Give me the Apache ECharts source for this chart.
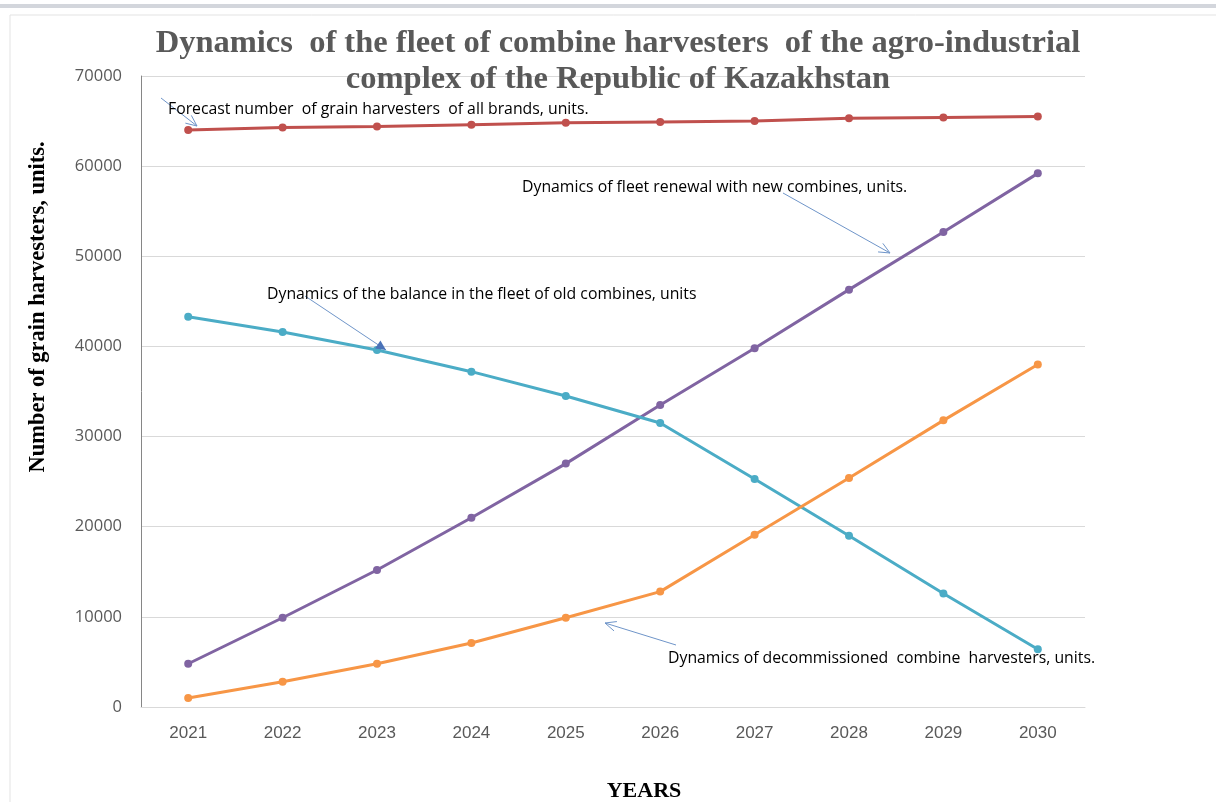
<!DOCTYPE html>
<html><head><meta charset="utf-8">
<script src="https://cdn.jsdelivr.net/npm/echarts@6/dist/echarts.min.js"></script>
<style>html,body{margin:0;padding:0;background:#fff;overflow:hidden}#c{width:1216px;height:802px}</style>
</head><body><div id="c"></div>
<script>
var years = ['2021','2022','2023','2024','2025','2026','2027','2028','2029','2030'];
var forecastTotal = [64000,64300,64400,64600,64800,64900,65000,65300,65400,65500];
var fleetRenewal = [4800,9900,15200,21000,27000,33500,39800,46300,52700,59200];
var oldBalance = [43300,41600,39600,37200,34500,31500,25300,19000,12600,6400];
var decommissioned = [1000,2800,4800,7100,9900,12800,19100,25400,31800,38000];
var seriesNames = ['Forecast number  of grain harvesters  of all brands, units.','Dynamics of fleet renewal with new combines, units.','Dynamics of the balance in the fleet of old combines, units','Dynamics of decommissioned  combine  harvesters, units.'];

var chart = echarts.init(document.getElementById('c'));
function mk(name, data, color){
  return {name:name,type:'line',data:data,symbol:'circle',symbolSize:8,
    lineStyle:{color:color,width:3},itemStyle:{color:color},z:3};
}
var arrowColor = '#6f95c9';
var annFont = '"Open Sans", "Noto Sans", sans-serif';
function arrowLine(x1,y1,x2,y2,filled){
  var ang = Math.atan2(y2-y1,x2-x1), L = filled?11:12, w = filled?0.45:0.42;
  var ax = x2 - L*Math.cos(ang-w), ay = y2 - L*Math.sin(ang-w);
  var bx = x2 - L*Math.cos(ang+w), by = y2 - L*Math.sin(ang+w);
  var els = [{type:'line',shape:{x1:x1,y1:y1,x2:x2,y2:y2},style:{stroke:arrowColor,lineWidth:1},z:10}];
  if(filled){
    els.push({type:'polygon',shape:{points:[[x2,y2],[ax,ay],[bx,by]]},style:{fill:'#4a72b8'},z:10});
  } else {
    els.push({type:'polyline',shape:{points:[[ax,ay],[x2,y2],[bx,by]]},style:{stroke:arrowColor,lineWidth:1,fill:null},z:10});
  }
  return els;
}
function ann(text,x,y){
  return {type:'text',x:x,y:y,style:{text:text,font:'15.8px '+annFont,fill:'#000',verticalAlign:'middle',align:'left'},z:11};
}
var g = [
  {type:'rect',shape:{x:0,y:4,width:1216,height:4},style:{fill:'#d3d6dc'},z:0},
  {type:'rect',shape:{x:10,y:15,width:1210,height:800},style:{fill:'#fff',stroke:'#e3e3e3',lineWidth:1},z:-1},
  ann(seriesNames[0],168,109),
  ann(seriesNames[1],522,187),
  ann(seriesNames[2],267,294),
  ann(seriesNames[3],668,658),
  {type:'text',x:38,y:307,rotation:Math.PI/2,style:{text:'Number of grain harvesters, units.',font:'bold 22.5px "Liberation Serif", serif',fill:'#000',align:'center',verticalAlign:'middle'},z:11},
  {type:'text',x:644,y:791,style:{text:'YEARS',font:'bold 22px "Liberation Serif", serif',fill:'#000',align:'center',verticalAlign:'middle'},z:11}
];
g = g.concat(arrowLine(161,98,197,126,false), arrowLine(783,193,890,253,false), arrowLine(305,296,386,350,true), arrowLine(676,645,605,623,false));

chart.setOption({
  animation:false,
  backgroundColor:'#fff',
  title:{text:'Dynamics  of the fleet of combine harvesters  of the agro-industrial\ncomplex of the Republic of Kazakhstan',left:613,top:21,textAlign:'center',
    textStyle:{fontFamily:'"Liberation Serif", serif',fontWeight:'bold',fontSize:32.5,color:'#595959',lineHeight:36}},
  grid:{left:141,right:131,top:76,bottom:95,containLabel:false,outerBoundsMode:'none'},
  xAxis:{type:'category',data:years,boundaryGap:true,
    axisLine:{lineStyle:{color:'#d9d9d9',width:1}},axisTick:{show:false},
    axisLabel:{color:'#595959',fontSize:17,margin:18,fontFamily:'"Liberation Sans Narrow","Liberation Sans",sans-serif'}},
  yAxis:{type:'value',min:0,max:70000,interval:10000,
    axisLine:{show:true,lineStyle:{color:'#868686',width:1}},axisTick:{show:false},
    splitLine:{lineStyle:{color:'#d9d9d9',width:1}},
    axisLabel:{color:'#595959',fontSize:16.5,margin:19,fontFamily:'"Open Sans","Liberation Sans",sans-serif',formatter:function(v){return String(v);}}},
  series:[mk(seriesNames[0],forecastTotal,'#c0504d'),mk(seriesNames[1],fleetRenewal,'#8064a2'),mk(seriesNames[2],oldBalance,'#4bacc6'),mk(seriesNames[3],decommissioned,'#f79646')],
  graphic:g
});
</script></body></html>
